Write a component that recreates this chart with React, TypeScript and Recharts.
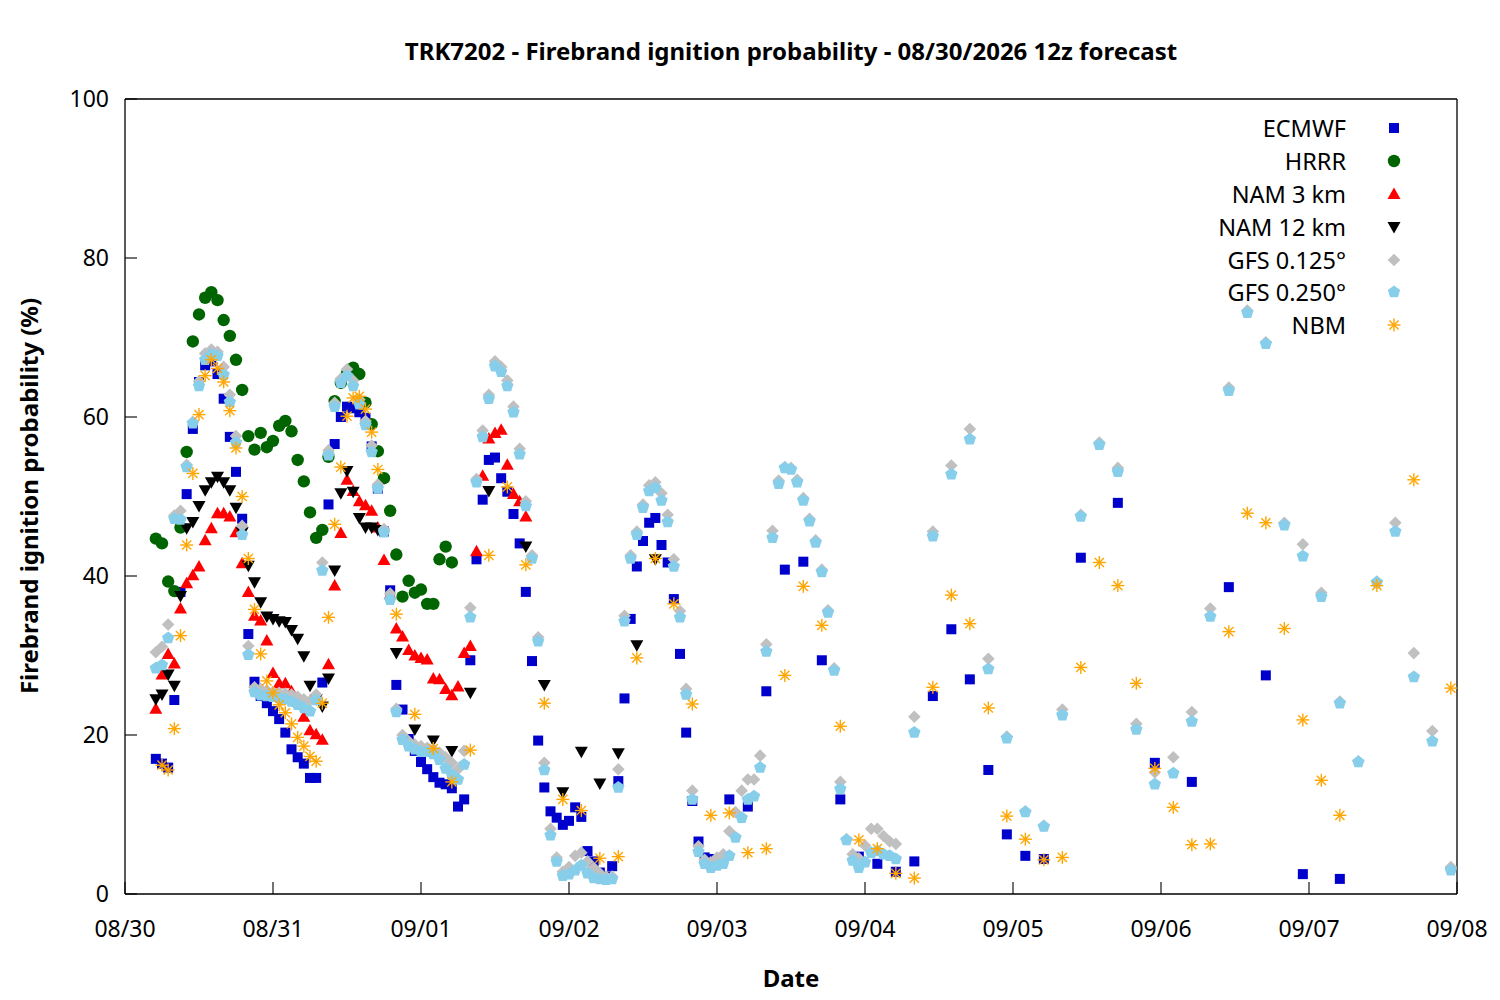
import { ScatterChart, Scatter, XAxis, YAxis, Legend } from 'recharts';

const FONT = '"Noto Sans", sans-serif';

// x = hours since 08/30 00 local time (the 12z run starts at hour 5)
const DATE_TICKS = [0, 24, 48, 72, 96, 120, 144, 168, 192, 216];
const DATE_LABELS = ['08/30', '08/31', '09/01', '09/02', '09/03', '09/04', '09/05', '09/06', '09/07', '09/08'];
const PROB_TICKS = [0, 20, 40, 60, 80, 100];

// ECMWF: hourly h5-h95, 3-hourly h98-h149, 6-hourly h155-h197
const ECMWF_1H = [
  17.0, 16.4, 15.9, 24.4, 38.0, 50.3, 58.5, 64.4, 66.5, 67.0,
  65.4, 62.3, 57.5, 53.1, 47.2, 32.7, 26.7, 24.9, 24.0, 23.0,
  22.0, 20.3, 18.2, 17.2, 16.4, 14.6, 14.6, 26.6, 49.0, 56.6,
  60.0, 61.3, 61.1, 60.6, 59.9, 56.3, 51.0, 45.6, 38.2, 26.3,
  23.2, 19.5, 18.0, 16.6, 15.7, 14.7, 14.0, 13.8, 13.3, 11.0,
  11.9, 29.4, 42.1, 49.6, 54.6, 54.9, 52.3, 50.6, 47.8, 44.1,
  38.0, 29.3, 19.3, 13.4, 10.4, 9.6, 8.7, 9.2, 10.9, 9.7,
  5.4, 4.1, 2.7, 2.2, 3.5, 14.2, 24.6, 34.6, 41.2, 44.4,
  46.7, 47.3, 43.9, 41.7, 37.1, 30.2, 20.3, 11.7, 6.6, 4.6, 4.4,
];
const ECMWF_3H = [11.9, 11.0, 25.5, 40.8, 41.8, 29.4, 11.9, 4.7, 3.8, 2.8, 4.1, 24.9, 33.3, 27.0, 15.6, 7.5, 4.8, 4.4];
const ECMWF_6H = [42.3, 49.2, 16.5, 14.1, 38.6, 27.5, 2.5, 1.9];

// HRRR: hourly h5-h53
const HRRR_1H = [
  44.7, 44.1, 39.3, 38.1, 46.1, 55.6, 69.5, 72.9, 75.0, 75.7,
  74.7, 72.2, 70.2, 67.2, 63.4, 57.6, 55.9, 58.0, 56.2, 57.0,
  58.9, 59.5, 58.2, 54.6, 51.9, 48.0, 44.8, 45.8, 55.0, 62.0,
  64.3, 65.5, 66.2, 65.4, 61.8, 59.1, 55.7, 52.3, 48.2, 42.7,
  37.4, 39.4, 37.9, 38.3, 36.5, 36.5, 42.1, 43.7, 41.7,
];

// NAM 3 km: hourly h5-h65
const NAM3_1H = [
  23.3, 27.6, 30.2, 29.0, 35.9, 39.1, 40.1, 41.2, 44.5, 46.0,
  47.9, 47.9, 47.5, 45.5, 41.6, 38.0, 35.0, 34.4, 31.9, 27.8,
  26.5, 26.5, 25.5, 24.2, 22.3, 20.6, 20.1, 19.4, 28.9, 38.8,
  45.4, 52.1, 50.7, 49.4, 48.9, 48.2, 46.1, 42.0, 37.7, 33.4,
  32.4, 30.7, 30.0, 29.7, 29.5, 27.1, 27.0, 25.8, 25.0, 26.1,
  30.3, 31.2, 43.1, 52.6, 57.3, 58.0, 58.4, 54.0, 50.3, 49.4,
  47.5,
];

// NAM 12 km: hourly h5-h41, 3-hourly h44-h59 and h65-h86
const NAM12_1H = [
  24.5, 25.1, 27.6, 26.2, 37.5, 46.0, 46.8, 48.8, 50.8, 51.8,
  52.5, 51.8, 50.8, 48.6, 45.5, 41.3, 39.2, 36.7, 34.9, 34.6,
  34.3, 34.2, 33.2, 32.1, 29.9, 26.2, 24.5, 23.6, 27.1, 40.7,
  50.4, 53.2, 50.6, 47.3, 46.1, 46.1, 45.8,
];
const NAM12_3H_A = [30.3, 20.7, 19.3, 18.0, 25.3, 50.7];
const NAM12_3H_B = [43.7, 26.3, 12.8, 17.9, 13.9, 17.7, 31.3, 42.1];

// GFS 0.125: hourly h5-h125, 3-hourly h128-h215
const GFS125_1H = [
  30.4, 31.1, 33.9, 47.6, 48.2, 54.0, 59.4, 64.5, 68.0, 68.5,
  68.2, 66.3, 62.8, 57.6, 46.3, 31.2, 26.0, 25.8, 25.6, 25.4,
  25.3, 25.2, 25.1, 24.8, 24.5, 24.3, 25.1, 41.7, 55.8, 61.8,
  64.8, 66.0, 64.6, 62.2, 59.5, 56.4, 51.5, 45.9, 37.8, 23.3,
  20.0, 19.2, 18.8, 18.6, 18.4, 18.2, 17.8, 17.2, 16.5, 15.7,
  18.0, 36.0, 52.2, 58.3, 62.8, 67.0, 66.3, 64.6, 61.3, 56.0,
  49.4, 42.6, 32.3, 16.5, 8.2, 4.6, 2.8, 3.4, 4.8, 5.2,
  4.1, 3.3, 2.6, 2.2, 2.2, 15.7, 35.0, 42.6, 45.6, 49.0,
  51.4, 51.8, 50.4, 47.7, 42.1, 35.6, 25.8, 13.0, 6.0, 4.3,
  4.0, 4.6, 5.0, 7.9, 10.3, 13.0, 14.4, 14.4, 17.4, 31.4,
  45.7, 52.0, 53.7, 53.6, 52.1, 49.8, 47.2, 44.5, 40.8, 35.7,
  28.4, 14.1, 6.9, 5.0, 4.5, 6.1, 8.2, 8.2, 7.3, 6.6,
  6.3,
];
const GFS125_3H = [
  22.3, 45.6, 53.9, 58.5, 29.6, 19.8, 10.4, 8.6, 23.2, 47.7,
  56.8, 53.6, 21.4, 15.3, 17.2, 22.9, 35.9, 63.7, 73.4, 69.4,
  46.7, 44.0, 37.9, 24.2, 16.7, 39.3, 46.7, 30.3, 20.5, 3.4,
];

// GFS 0.250: hourly h5-h125, 3-hourly h128-h215
const GFS250_1H = [
  28.4, 28.8, 32.2, 47.2, 47.1, 53.7, 59.2, 63.9, 67.2, 67.9,
  67.7, 65.3, 61.9, 56.8, 45.2, 30.1, 25.4, 25.0, 24.9, 24.8,
  24.7, 24.5, 24.2, 23.8, 23.4, 23.0, 24.4, 40.7, 55.2, 61.3,
  64.3, 65.2, 63.9, 61.6, 59.0, 55.6, 51.0, 45.5, 37.0, 22.9,
  19.4, 18.6, 18.2, 17.9, 17.9, 17.6, 16.9, 15.8, 15.0, 14.4,
  16.3, 34.8, 51.8, 57.5, 62.3, 66.4, 65.7, 63.9, 60.6, 55.3,
  48.8, 42.2, 31.8, 15.6, 7.4, 4.1, 2.3, 2.5, 3.0, 3.6,
  2.6, 2.0, 1.9, 1.8, 1.9, 13.4, 34.3, 42.2, 45.2, 48.6,
  50.7, 51.1, 49.5, 46.8, 41.2, 34.8, 25.1, 11.9, 5.3, 3.8,
  3.3, 3.6, 3.8, 4.8, 7.1, 9.6, 11.9, 12.3, 15.9, 30.5,
  44.8, 51.6, 53.6, 53.4, 51.8, 49.5, 46.9, 44.2, 40.5, 35.4,
  28.1, 13.2, 6.8, 4.2, 3.3, 4.0, 5.2, 5.4, 5.0, 4.8,
  4.4,
];
const GFS250_3H = [
  20.3, 45.0, 52.8, 57.2, 28.3, 19.6, 10.3, 8.5, 22.5, 47.5,
  56.5, 53.1, 20.7, 13.8, 15.2, 21.7, 34.9, 63.3, 73.1, 69.2,
  46.4, 42.5, 37.4, 24.0, 16.6, 39.2, 45.6, 27.3, 19.2, 3.0,
];

// NBM: hourly h6-h41, 3-hourly h44-h197, 6-hourly h203-h215
const NBM_1H = [
  16.2, 15.6, 20.8, 32.5, 43.9, 52.9, 60.3, 65.2, 67.2,
  66.1, 64.4, 60.8, 56.1, 50.0, 42.2, 35.8, 30.2, 26.8, 25.3,
  23.8, 22.8, 21.4, 19.7, 18.6, 17.3, 16.7, 24.0, 34.8, 46.5,
  53.7, 60.1, 62.4, 62.6, 61.0, 58.1, 53.4,
];
const NBM_3H = [
  35.2, 22.6, 18.3, 14.1, 18.1, 42.6, 51.2, 41.4, 24.0, 11.9,
  10.5, 4.5, 4.7, 29.7, 42.2, 36.5, 23.9, 9.9, 10.2, 5.2,
  5.7, 27.5, 38.7, 33.8, 21.1, 6.8, 5.7, 2.6, 2.0, 26.0,
  37.6, 34.0, 23.4, 9.8, 6.9, 4.3, 4.6, 28.5, 41.7, 38.8,
  26.5, 15.8, 10.9, 6.2, 6.3, 33.0, 47.9, 46.7, 33.4, 21.9,
  14.3, 9.9,
];
const NBM_6H = [38.8, 52.1, 25.9];

type Segment = [number, number, number[]]; // first hour, step in hours, values

function toPoints(segments: Segment[]) {
  const out: { x: number; y: number }[] = [];
  segments.forEach(([start, step, vals]) => {
    vals.forEach((v, i) => out.push({ x: start + i * step, y: v }));
  });
  return out;
}

// marker shapes
const Square = ({ cx, cy }: any) => <rect x={cx - 5} y={cy - 5} width={10} height={10} fill="#0000cc" />;
const Dot = ({ cx, cy }: any) => <circle cx={cx} cy={cy} r={6.2} fill="#006400" />;
const TriUp = ({ cx, cy }: any) => (
  <polygon points={`${cx},${cy - 6.5} ${cx + 6.5},${cy + 5} ${cx - 6.5},${cy + 5}`} fill="#ff0000" />
);
const TriDown = ({ cx, cy }: any) => (
  <polygon points={`${cx},${cy + 6.5} ${cx + 6.5},${cy - 5} ${cx - 6.5},${cy - 5}`} fill="#000000" />
);
const Diamond = ({ cx, cy }: any) => (
  <polygon points={`${cx},${cy - 6.3} ${cx + 6.3},${cy} ${cx},${cy + 6.3} ${cx - 6.3},${cy}`} fill="#c0c0c0" />
);
const Pentagon = ({ cx, cy }: any) => {
  const pts = [0, 1, 2, 3, 4]
    .map((k) => {
      const a = ((-90 + 72 * k) * Math.PI) / 180;
      return `${cx + 6.5 * Math.cos(a)},${cy + 6.5 * Math.sin(a)}`;
    })
    .join(' ');
  return <polygon points={pts} fill="#87ceeb" />;
};
const Star = ({ cx, cy }: any) => {
  const r = 6.5;
  const d = r * 0.7071;
  return (
    <g stroke="#ffa500" strokeWidth={1.4}>
      <line x1={cx - r} y1={cy} x2={cx + r} y2={cy} />
      <line x1={cx} y1={cy - r} x2={cx} y2={cy + r} />
      <line x1={cx - d} y1={cy - d} x2={cx + d} y2={cy + d} />
      <line x1={cx - d} y1={cy + d} x2={cx + d} y2={cy - d} />
    </g>
  );
};

const SERIES = [
  { name: 'ECMWF', Shape: Square, data: toPoints([[5, 1, ECMWF_1H], [98, 3, ECMWF_3H], [155, 6, ECMWF_6H]]) },
  { name: 'HRRR', Shape: Dot, data: toPoints([[5, 1, HRRR_1H]]) },
  { name: 'NAM 3 km', Shape: TriUp, data: toPoints([[5, 1, NAM3_1H]]) },
  { name: 'NAM 12 km', Shape: TriDown, data: toPoints([[5, 1, NAM12_1H], [44, 3, NAM12_3H_A], [65, 3, NAM12_3H_B]]) },
  { name: 'GFS 0.125°', Shape: Diamond, data: toPoints([[5, 1, GFS125_1H], [128, 3, GFS125_3H]]) },
  { name: 'GFS 0.250°', Shape: Pentagon, data: toPoints([[5, 1, GFS250_1H], [128, 3, GFS250_3H]]) },
  { name: 'NBM', Shape: Star, data: toPoints([[6, 1, NBM_1H], [44, 3, NBM_3H], [203, 6, NBM_6H]]) },
];

const tickStyle = { fontSize: 23, fill: '#000', fontFamily: FONT };

function LegendBox() {
  return (
    <div style={{ fontFamily: FONT, fontSize: 23.5, color: '#000' }}>
      {SERIES.map(({ name, Shape }) => (
        <div key={name} style={{ display: 'flex', alignItems: 'center', height: 32.8 }}>
          <span style={{ width: 156, textAlign: 'right', whiteSpace: 'nowrap' }}>{name}</span>
          <svg width={96} height={20}>
            <Shape cx={48} cy={10} />
          </svg>
        </div>
      ))}
    </div>
  );
}

const labelStyle = {
  position: 'absolute' as const,
  fontFamily: FONT,
  fontWeight: 'bold' as const,
  fontSize: 24,
  whiteSpace: 'nowrap' as const,
  color: '#000',
};

export default function App() {
  return (
    <div style={{ position: 'absolute', left: 0, top: 0, width: 1500, height: 1000, background: '#fff' }}>
      <ScatterChart width={1500} height={1000} margin={{ top: 89, right: 33, bottom: 76, left: 65 }}>
        <XAxis
          type="number"
          dataKey="x"
          domain={[0, 216]}
          allowDataOverflow
          ticks={DATE_TICKS}
          tickFormatter={(v: number) => DATE_LABELS[DATE_TICKS.indexOf(v)] ?? ''}
          height={30}
          tickSize={-12}
          tickMargin={39}
          tick={tickStyle}
          axisLine={{ stroke: '#000', strokeWidth: 1.3 }}
          tickLine={{ stroke: '#000', strokeWidth: 1.1 }}
          interval={0}
        />
        <XAxis
          xAxisId="top"
          orientation="top"
          type="number"
          domain={[0, 216]}
          allowDataOverflow
          ticks={DATE_TICKS}
          height={10}
          tickSize={-12}
          tick={false}
          axisLine={{ stroke: '#000', strokeWidth: 1.3 }}
          tickLine={{ stroke: '#000', strokeWidth: 1.1 }}
          interval={0}
        />
        <YAxis
          type="number"
          dataKey="y"
          domain={[0, 100]}
          allowDataOverflow
          ticks={PROB_TICKS}
          width={60}
          tickSize={-12}
          tickMargin={28}
          tick={tickStyle}
          axisLine={{ stroke: '#000', strokeWidth: 1.3 }}
          tickLine={{ stroke: '#000', strokeWidth: 1.1 }}
          interval={0}
        />
        <YAxis
          yAxisId="right"
          orientation="right"
          type="number"
          domain={[0, 100]}
          allowDataOverflow
          ticks={PROB_TICKS}
          width={10}
          tickSize={-12}
          tick={false}
          axisLine={{ stroke: '#000', strokeWidth: 1.3 }}
          tickLine={{ stroke: '#000', strokeWidth: 1.1 }}
          interval={0}
        />
        {SERIES.map(({ name, Shape, data }) => (
          <Scatter key={name} name={name} data={data} shape={<Shape />} isAnimationActive={false} />
        ))}
        <Legend
          layout="vertical"
          align="center"
          verticalAlign="middle"
          content={() => <LegendBox />}
          wrapperStyle={{ position: 'absolute', left: 1190, top: 112, width: 260, height: 240 }}
        />
      </ScatterChart>
      <div style={{ ...labelStyle, left: 791, top: 50, transform: 'translate(-50%, -50%)' }}>
        TRK7202 - Firebrand ignition probability - 08/30/2026 12z forecast
      </div>
      <div style={{ ...labelStyle, left: 791, top: 977, transform: 'translate(-50%, -50%)' }}>Date</div>
      <div style={{ ...labelStyle, left: 28, top: 496, transform: 'translate(-50%, -50%) rotate(-90deg)' }}>
        Firebrand ignition probability (%)
      </div>
    </div>
  );
}
